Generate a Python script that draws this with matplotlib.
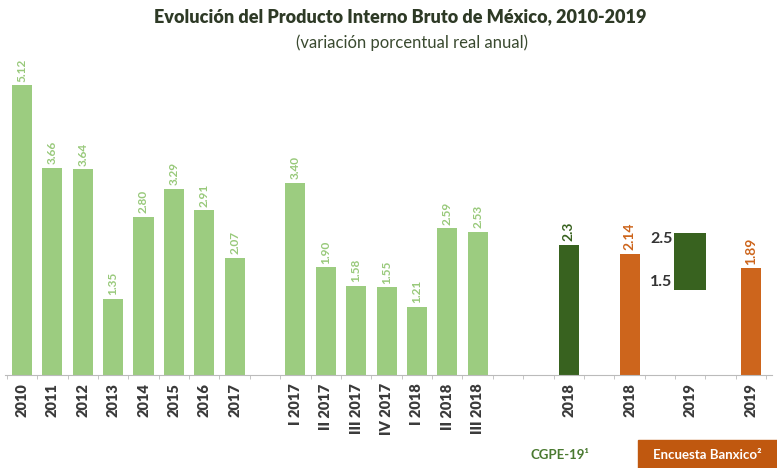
import matplotlib
matplotlib.use("Agg")
import matplotlib.pyplot as plt
from matplotlib.patches import Rectangle

plt.rcParams['font.family'] = ['Lato', 'DejaVu Sans']

# Data
annual_labels = ["2010", "2011", "2012", "2013", "2014", "2015", "2016", "2017"]
annual_values = [5.12, 3.66, 3.64, 1.35, 2.80, 3.29, 2.91, 2.07]
quarter_labels = ["I 2017", "II 2017", "III 2017", "IV 2017", "I 2018", "II 2018", "III 2018"]
quarter_values = [3.40, 1.90, 1.58, 1.55, 1.21, 2.59, 2.53]
cgpe_labels = ["2018"]
cgpe_values = [2.3]
cgpe_range_label = "2019"
cgpe_range = [1.5, 2.5]
banxico_labels = ["2018", "2019"]
banxico_values = [2.14, 1.89]

LIGHT = "#9ccc80"
LIGHT_TXT = "#98c97a"
DARK = "#38621f"
ORANGE = "#cd651c"

fig = plt.figure(figsize=(7.77, 4.68), dpi=100)
ax = fig.add_axes([5/777, 93/468, 767/777, 317/468])

annual_x = list(range(0, 8))
quarter_x = list(range(9, 16))
cgpe_x = [18]
banx_x = [20, 24]
range_x = 22
w = 0.66

ax.bar(annual_x, annual_values, width=w, color=LIGHT)
ax.bar(quarter_x, quarter_values, width=w, color=LIGHT)
ax.bar(cgpe_x, cgpe_values, width=w, color=DARK)
ax.bar(banx_x, banxico_values, width=w, color=ORANGE)
ax.bar([range_x], [cgpe_range[1] - cgpe_range[0]], bottom=[cgpe_range[0]], width=1.05, color=DARK)

def lab(xs, vals, color, fmt="{:.2f}", fs=8.5):
    for x, v in zip(xs, vals):
        ax.text(x, v + 0.06, fmt.format(v), rotation=90, ha="center", va="bottom",
                fontsize=fs, fontweight="bold", color=color)

lab(annual_x, annual_values, LIGHT_TXT)
lab(quarter_x, quarter_values, LIGHT_TXT)
lab(cgpe_x, cgpe_values, DARK, "{:.1f}", 10)
lab(banx_x, banxico_values, ORANGE, fs=10)

ax.text(range_x - 0.58, cgpe_range[1] - 0.1, f"{cgpe_range[1]:.1f}", ha="right", va="center",
        fontsize=11.5, fontweight="bold", color="#333333")
ax.text(range_x - 0.58, cgpe_range[0] + 0.15, f"{cgpe_range[0]:.1f}", ha="right", va="center",
        fontsize=11.5, fontweight="bold", color="#333333")

xt = annual_x + quarter_x + cgpe_x + [banx_x[0], range_x, banx_x[1]]
xl = annual_labels + quarter_labels + cgpe_labels + [banxico_labels[0], cgpe_range_label, banxico_labels[1]]
ax.set_xticks(xt)
ax.set_xticklabels(xl, rotation=90, fontsize=10.5, fontweight="heavy", color="#3a3a3a")
ax.tick_params(axis="x", length=0, pad=6)
ax.set_xticks([i + 0.5 for i in range(-1, 25)], minor=True)
ax.tick_params(axis="x", which="minor", length=3, color="#bbbbbb")

ax.set_xlim(-0.56, 24.69)
ax.set_ylim(0, 5.6)
ax.set_yticks([])
for s in ["top", "right", "left"]:
    ax.spines[s].set_visible(False)
ax.spines["bottom"].set_color("#bbbbbb")

fig.text(400/777, 1 - 17/468, "Evolución del Producto Interno Bruto de México, 2010-2019",
         ha="center", va="center", fontsize=13, fontweight="heavy", color="#2e3a26")
fig.text(412/777, 1 - 43/468, "(variación porcentual real anual)",
         ha="center", va="center", fontsize=12, color="#3a4a30")

fig.text(560/777, 1 - 455/468, "CGPE-19¹", ha="center", va="center",
         fontsize=9.5, fontweight="bold", color="#4a7a30")
fig.patches.append(Rectangle((638/777, 0), 139/777, 28/468, transform=fig.transFigure,
                             color="#c0580f", zorder=0))
fig.text(707/777, 1 - 455/468, "Encuesta Banxico²", ha="center", va="center",
         fontsize=9.5, fontweight="bold", color="white")

fig.savefig("out.png", dpi=100, facecolor="white")
